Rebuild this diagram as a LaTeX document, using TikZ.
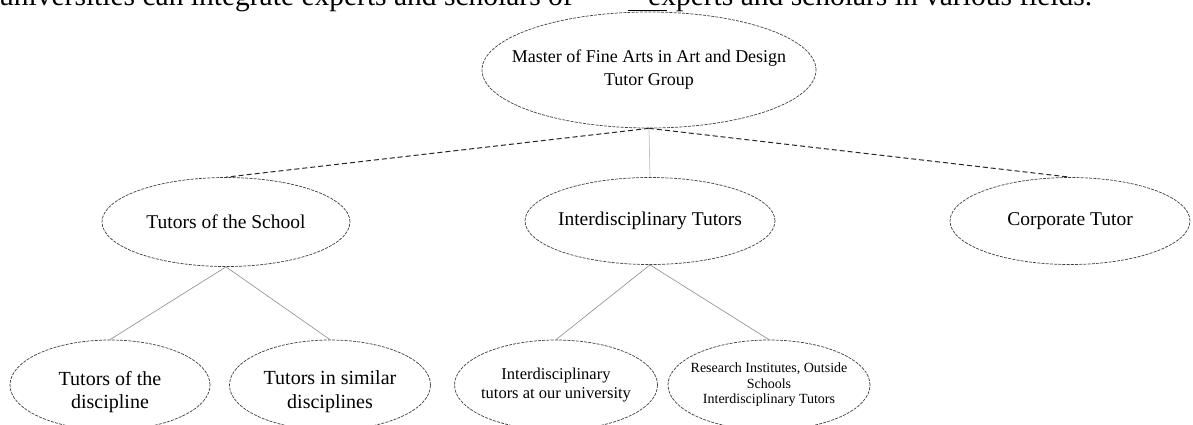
\documentclass[tikz,border=0pt]{standalone}
\usepackage{fontspec}
\setmainfont{Liberation Serif}
\usetikzlibrary{shapes.geometric}
\tikzset{
  ell/.style={ellipse, draw=black!75, line width=0.7pt, dash pattern=on 3pt off 1.2pt, inner sep=0pt},
  dashlink/.style={draw=black!85, line width=1pt, dash pattern=on 5pt off 3pt},
  solidlink/.style={draw=black!45, line width=0.6pt},
  vlink/.style={draw=black!25, line width=0.7pt},
  lbl/.style={align=center, inner sep=0pt},
  para/.style={inner sep=0pt, font=\fontsize{29.5}{32}\selectfont}
}
\begin{document}
\begin{tikzpicture}[x=1pt,y=-1pt]
\useasboundingbox (0,0) rectangle (1193,424);
\clip (0,0) rectangle (1193,424);
\fill[white] (0,0) rectangle (1193,424);
% cut-off line of the surrounding text
\node[para, anchor=base west] (para1) at (-1,5) {universities can integrate experts and scholars of};
\node[para, anchor=base west] (para2) at (648,5) {experts and scholars in various fields.};
\draw[line width=1pt] (628,10) -- (667,10);
% nodes
\node[ell, minimum width=334pt, minimum height=116pt, label={[lbl, font=\fontsize{18}{23}\selectfont]center:Master of Fine Arts in Art and Design\\Tutor Group}] (top) at (649,70) {};
\node[ell, minimum width=248pt, minimum height=89pt, label={[lbl, font=\fontsize{19.5}{23}\selectfont]center:Tutors of the School}] (school) at (226,222) {};
\node[ell, minimum width=250pt, minimum height=87pt, label={[lbl, font=\fontsize{19.5}{23}\selectfont]center:Interdisciplinary Tutors}] (inter) at (650,221) {};
\node[ell, minimum width=240pt, minimum height=87pt, label={[lbl, font=\fontsize{19.5}{23}\selectfont]center:Corporate Tutor}] (corp) at (1070,221) {};
\node[ell, minimum width=200pt, minimum height=90pt, label={[lbl, yshift=-7pt, font=\fontsize{20}{23.5}\selectfont]center:Tutors of the\\discipline}] (disc) at (110,385) {};
\node[ell, minimum width=201pt, minimum height=90pt, label={[lbl, yshift=-7pt, font=\fontsize{20}{24}\selectfont]center:Tutors in similar\\disciplines}] (sim) at (330,385) {};
\node[ell, minimum width=203pt, minimum height=90pt, label={[lbl, font=\fontsize{16.5}{18.5}\selectfont]center:Interdisciplinary\\tutors at our university}] (uni) at (556,385) {};
\node[ell, minimum width=202pt, minimum height=90pt, label={[lbl, font=\fontsize{14}{15.5}\selectfont]center:Research Institutes, Outside\\Schools\\Interdisciplinary Tutors}] (res) at (769,385) {};
% connectors
\draw[dashlink] (top.south) -- (school.north);
\draw[dashlink] (top.south) -- (corp.north);
\draw[vlink] (top.south) -- (inter.north);
\draw[solidlink] (school.south) -- (disc.north);
\draw[solidlink] (school.south) -- (sim.north);
\draw[solidlink] (inter.south) -- (uni.north);
\draw[solidlink] (inter.south) -- (res.north);
\end{tikzpicture}
\end{document}
